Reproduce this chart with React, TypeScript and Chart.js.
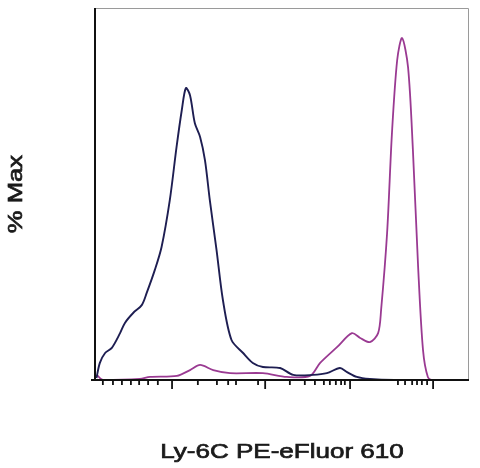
import React, { useEffect, useRef } from "react";
import { Chart, registerables, type Plugin } from "chart.js";

Chart.register(...registerables);

// channel positions across the plot (0 = left edge, 1000 = right edge), y in % of max
const blueX = [4, 13, 27, 45, 67, 80, 102, 125, 138, 160, 178, 200, 218, 232, 243, 254, 267, 281, 294, 307, 325, 342, 365, 396, 422, 449, 495, 530, 583, 620, 655, 674, 700, 735, 800, 1000];
const blueY = [0.6, 5.0, 7.9, 9.4, 13.7, 16.7, 19.6, 21.9, 25.4, 32.2, 38.9, 52.6, 68.1, 78.9, 85.4, 83.3, 75.1, 71.1, 64.3, 52.6, 38.0, 23.4, 11.7, 7.9, 5.0, 3.8, 3.5, 1.5, 1.5, 2.0, 3.5, 2.3, 0.9, 0.3, 0, 0];

const magentaX = [5, 21, 120, 147, 219, 254, 281, 316, 361, 449, 513, 575, 602, 647, 687, 709, 735, 757, 765, 781, 794, 808, 821, 837, 850, 864, 877, 890, 904, 1000];
const magentaY = [1.5, 0, 0.3, 0.9, 1.2, 2.9, 4.4, 2.9, 2.0, 2.0, 0.9, 1.2, 5.0, 9.6, 13.7, 12.3, 11.1, 13.7, 20.5, 43.0, 72.2, 93.6, 100, 91.5, 67.3, 33.0, 8.8, 0.9, 0, 0];

const majorTicks = [206, 455, 682, 904];
const minorTicks = [21, 48, 72, 96, 118, 142, 168, 275, 326, 356, 377, 436, 521, 561, 588, 612, 628, 644, 658, 668, 810, 829, 848, 861, 874, 888];

const xTitle = "Ly-6C PE-eFluor 610";
const yTitle = "% Max";

const toPoints = (xs: number[], ys: number[]) => xs.map((x, i) => ({ x, y: ys[i] }));

const framePlugin: Plugin<"line"> = {
  id: "frame",
  beforeDatasetsDraw(chart) {
    const { ctx, chartArea: a } = chart;
    ctx.save();
    ctx.strokeStyle = "#9a9a9a";
    ctx.lineWidth = 1;
    ctx.beginPath();
    ctx.moveTo(a.left, a.top + 0.5);
    ctx.lineTo(a.right - 0.5, a.top + 0.5);
    ctx.lineTo(a.right - 0.5, a.bottom);
    ctx.stroke();
    ctx.restore();
  },
  afterDraw(chart) {
    const { ctx, chartArea: a } = chart;
    const xs = chart.scales.x;
    ctx.save();
    ctx.strokeStyle = "#111";
    ctx.lineWidth = 2;
    ctx.beginPath();
    ctx.moveTo(a.left, a.top);
    ctx.lineTo(a.left, a.bottom);
    ctx.moveTo(a.left - 4, a.bottom);
    ctx.lineTo(a.right, a.bottom);
    ctx.stroke();

    ctx.lineWidth = 1.8;
    ctx.beginPath();
    majorTicks.forEach((v) => {
      const px = xs.getPixelForValue(v);
      ctx.moveTo(px, a.bottom);
      ctx.lineTo(px, a.bottom + 9);
    });
    minorTicks.forEach((v) => {
      const px = xs.getPixelForValue(v);
      ctx.moveTo(px, a.bottom);
      ctx.lineTo(px, a.bottom + 5);
    });
    ctx.stroke();

    // regular face with a thin outline, to match the medium weight of the source
    ctx.fillStyle = "#1a1a1a";
    ctx.strokeStyle = "#1a1a1a";
    ctx.lineWidth = 0.7;
    ctx.font = '21px "Liberation Sans", Arial, sans-serif';
    ctx.textAlign = "center";
    ctx.textBaseline = "alphabetic";
    ctx.save();
    ctx.translate((a.left + a.right) / 2, 458);
    ctx.scale(1.24, 1);
    ctx.fillText(xTitle, 0, 0);
    ctx.strokeText(xTitle, 0, 0);
    ctx.restore();

    ctx.save();
    ctx.translate(22, 194);
    ctx.rotate(-Math.PI / 2);
    ctx.scale(1.22, 1);
    ctx.fillText(yTitle, 0, 0);
    ctx.strokeText(yTitle, 0, 0);
    ctx.restore();
    ctx.restore();
  },
};

const App: React.FC = () => {
  const canvasRef = useRef<HTMLCanvasElement>(null);

  useEffect(() => {
    if (!canvasRef.current) return;
    const chart = new Chart(canvasRef.current, {
      type: "line",
      data: {
        datasets: [
          {
            label: "control",
            data: toPoints(blueX, blueY),
            borderColor: "#1e1e52",
            borderWidth: 1.9,
            pointRadius: 0,
            tension: 0.3,
            fill: false,
          },
          {
            label: "Ly-6C",
            data: toPoints(magentaX, magentaY),
            borderColor: "#9a3a92",
            borderWidth: 1.8,
            pointRadius: 0,
            tension: 0.3,
            fill: false,
          },
        ],
      },
      options: {
        animation: false,
        responsive: true,
        maintainAspectRatio: false,
        layout: { padding: { left: 95, top: 8, right: 11, bottom: 88 } },
        plugins: { legend: { display: false }, tooltip: { enabled: false } },
        scales: {
          x: { type: "linear", min: 0, max: 1000, display: false },
          y: { type: "linear", min: 0, max: 108.8, display: false },
        },
      },
      plugins: [framePlugin],
    });
    return () => chart.destroy();
  }, []);

  return (
    <div style={{ position: "fixed", left: 0, top: 0, width: 480, height: 468, background: "#fff" }}>
      <canvas ref={canvasRef} />
    </div>
  );
};

export default App;
